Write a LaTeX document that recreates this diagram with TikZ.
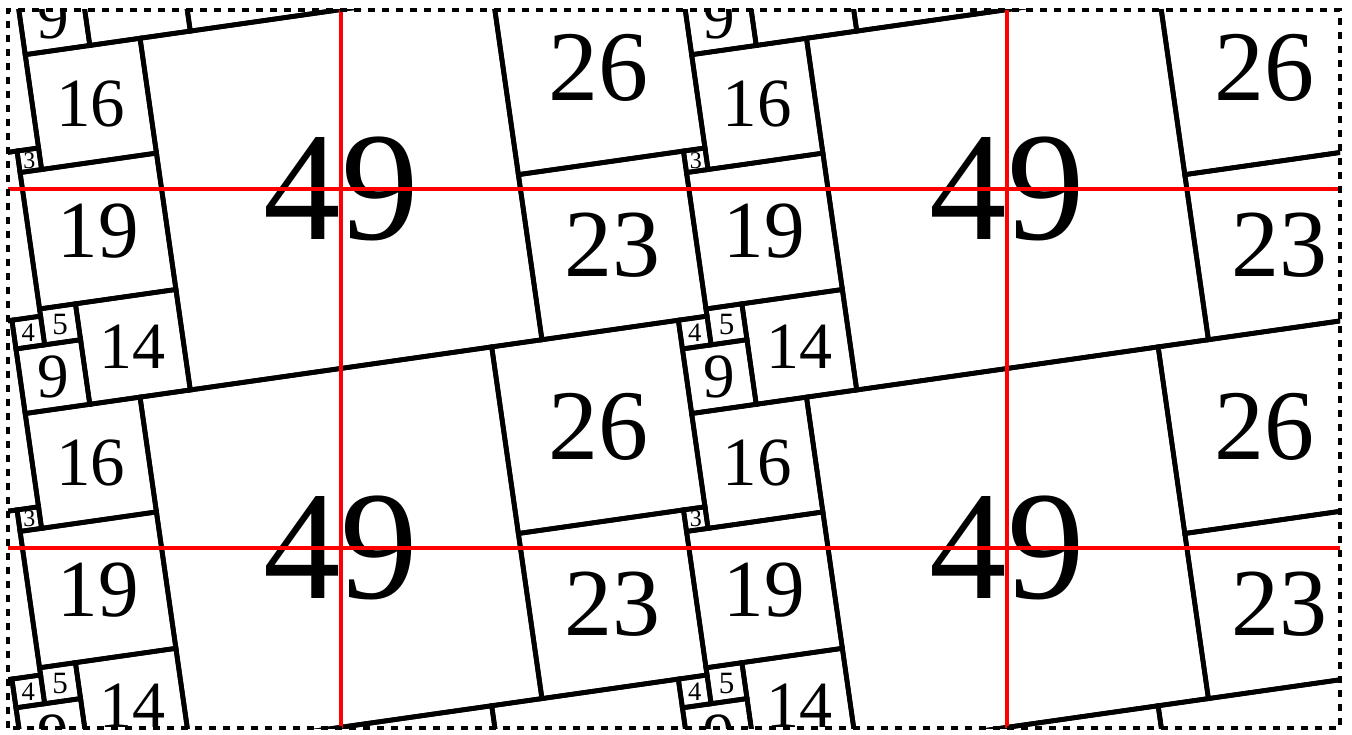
\documentclass[tikz,border=0pt]{standalone}
\usepackage{fontspec}
\setmainfont{Liberation Serif}
\tikzset{
  tile/.style={draw=black, line width=2.4pt, line join=miter},
  lbl/.style={inner sep=0pt, text=black},
  redline/.style={draw=red, line width=2.3pt},
  framebox/.style={draw=black, line width=2.1pt, dash pattern=on 3.5pt off 3.5pt},
}
\begin{document}
\begin{tikzpicture}[x=0.5pt,y=0.5pt]
\useasboundingbox (0,0) rectangle (1352,734);
\begin{scope}
  \clip (8,6) rectangle (1340,724);
  \begin{scope}[shift={(341,545)}, rotate=8.130102, scale=7.25]
    \foreach \i in {-2,...,3}{
      \foreach \j in {-3,...,2}{
        \pgfmathsetmacro\dx{91*(\i)+7*(\j)-24.5}
        \pgfmathsetmacro\dy{-13*(\i)+49*(\j)-24.5}
        \pgfmathtruncatemacro\k{(\i+2)*6+(\j+3)}
        \foreach \sx/\sy/\s/\fs in {0/0/49/77.5pt, 49/23/26/50pt, 49/0/23/48pt,
            -16/33/16/34.5pt, -19/14/19/40.5pt, -14/0/14/33pt, -19/33/3/12pt,
            68/-4/4/13.3pt, 72/-4/5/15.5pt, 68/-13/9/31.5pt}{
          \pgfmathsetmacro\px{\dx+(\sx)}
          \pgfmathsetmacro\py{\dy+(\sy)}
          \pgfmathsetmacro\cx{\px+\s/2}
          \pgfmathsetmacro\cy{\py+\s/2}
          \node[lbl, font=\fontsize{\fs}{\fs}\selectfont] (sq\k-\s)
            at (\cx,\cy) {\s};
          \draw[tile] (\px,\py) rectangle ++(\s,\s);
        }
      }
    }
  \end{scope}
\end{scope}
% red lattice lines through the centres of the 49-squares
\coordinate (hl1) at (8,545);   \coordinate (hr1) at (1340,545);
\coordinate (hl2) at (8,186);   \coordinate (hr2) at (1340,186);
\coordinate (vt1) at (341,724); \coordinate (vb1) at (341,6);
\coordinate (vt2) at (1007,724);\coordinate (vb2) at (1007,6);
\draw[redline] (hl1) -- (hr1);
\draw[redline] (hl2) -- (hr2);
\draw[redline] (vt1) -- (vb1);
\draw[redline] (vt2) -- (vb2);
% dashed frame
\draw[framebox] (8,6) rectangle (1340,724);
\end{tikzpicture}
\end{document}
